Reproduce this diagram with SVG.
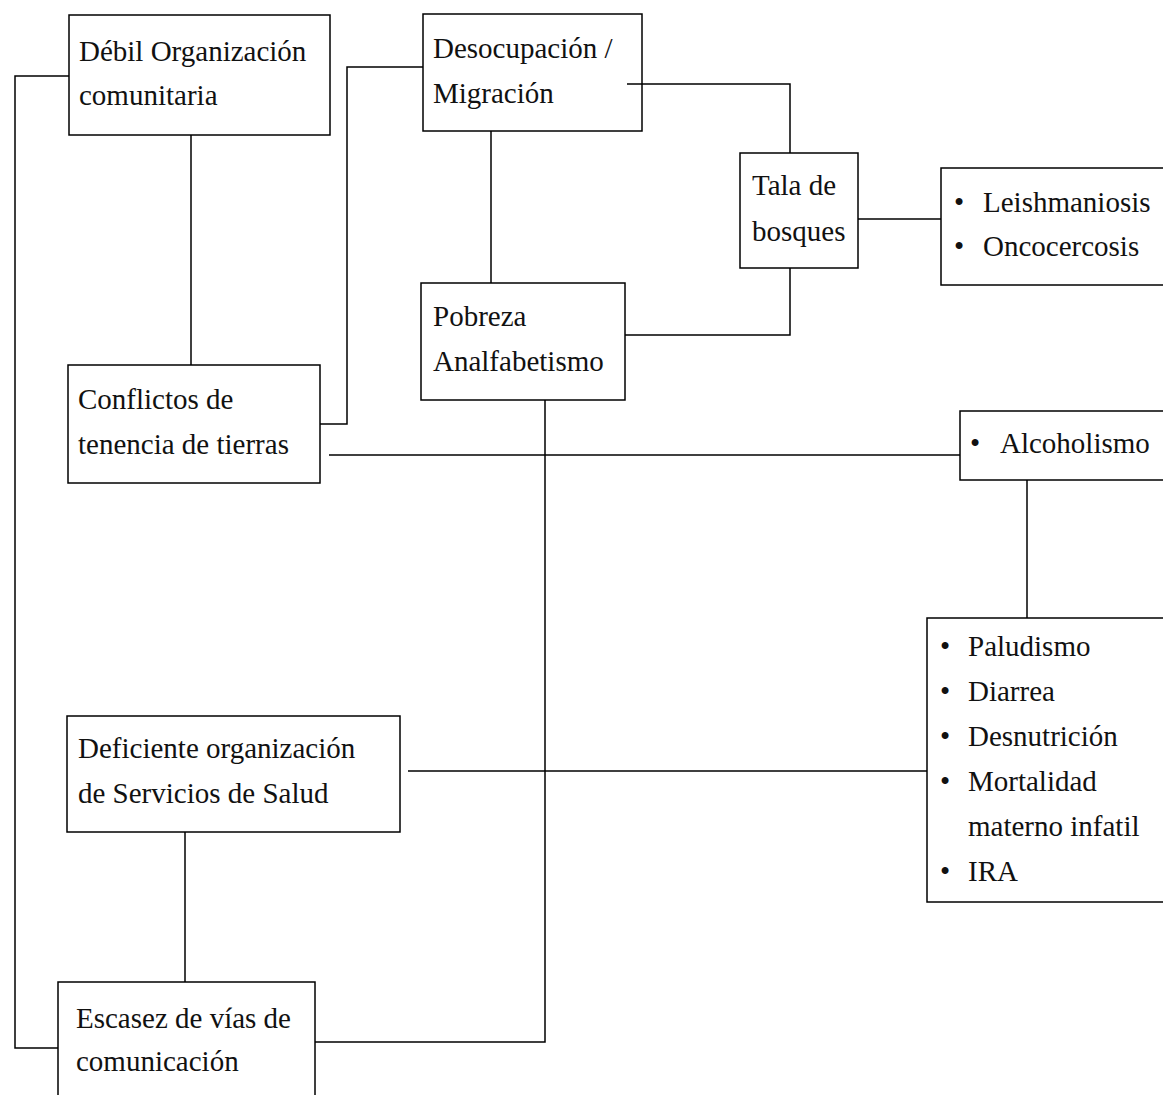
<svg xmlns="http://www.w3.org/2000/svg" width="1163" height="1095" viewBox="0 0 1163 1095">
<style>
.box{fill:#fff;stroke:#000;stroke-width:1.5}
.ln{fill:none;stroke:#000;stroke-width:1.5}
text{font-family:"Liberation Serif",serif;font-size:29px;fill:#111}
</style>
<rect width="1163" height="1095" fill="#fff"/>
<g id="debil">
<rect class="box" x="69" y="15" width="261" height="120"/>
<text x="79" y="61">Débil Organización</text>
<text x="79" y="105">comunitaria</text>
</g>
<g id="desocupacion">
<rect class="box" x="423" y="14" width="219" height="117"/>
<text x="433" y="58">Desocupación /</text>
<text x="433" y="103">Migración</text>
</g>
<g id="tala">
<rect class="box" x="740" y="153" width="118" height="115"/>
<text x="752" y="195">Tala de</text>
<text x="752" y="241">bosques</text>
</g>
<g id="leish">
<rect class="box" x="941" y="168" width="230" height="117"/>
<text x="954" y="212">•</text><text x="983" y="212">Leishmaniosis</text>
<text x="954" y="256">•</text><text x="983" y="256">Oncocercosis</text>
</g>
<g id="pobreza">
<rect class="box" x="421" y="283" width="204" height="117"/>
<text x="433" y="326">Pobreza</text>
<text x="433" y="371">Analfabetismo</text>
</g>
<g id="conflictos">
<rect class="box" x="68" y="365" width="252" height="118"/>
<text x="78" y="409">Conflictos de</text>
<text x="78" y="454">tenencia de tierras</text>
</g>
<g id="alcoholismo">
<rect class="box" x="960" y="411" width="210" height="69"/>
<text x="970" y="453">•</text><text x="1000" y="453">Alcoholismo</text>
</g>
<g id="paludismo">
<rect class="box" x="927" y="618" width="243" height="284"/>
<text x="940" y="656">•</text><text x="968" y="656">Paludismo</text>
<text x="940" y="701">•</text><text x="968" y="701">Diarrea</text>
<text x="940" y="746">•</text><text x="968" y="746">Desnutrición</text>
<text x="940" y="791">•</text><text x="968" y="791">Mortalidad</text>
<text x="968" y="836">materno infatil</text>
<text x="940" y="881">•</text><text x="968" y="881">IRA</text>
</g>
<g id="deficiente">
<rect class="box" x="67" y="716" width="333" height="116"/>
<text x="78" y="758">Deficiente organización</text>
<text x="78" y="803">de Servicios de Salud</text>
</g>
<g id="escasez">
<rect class="box" x="58" y="982" width="257" height="125"/>
<text x="76" y="1028">Escasez de vías de</text>
<text x="76" y="1071">comunicación</text>
</g>
<g id="connectors">
<polyline class="ln" points="69,76 15,76 15,1048 58,1048"/>
<line class="ln" x1="191" y1="135" x2="191" y2="365"/>
<polyline class="ln" points="423,67 347,67 347,424 320,424"/>
<polyline class="ln" points="627,84 790,84 790,153"/>
<line class="ln" x1="491" y1="131" x2="491" y2="283"/>
<polyline class="ln" points="625,335 790,335 790,268"/>
<line class="ln" x1="858" y1="219" x2="941" y2="219"/>
<line class="ln" x1="329" y1="455" x2="960" y2="455"/>
<polyline class="ln" points="545,400 545,1042 315,1042"/>
<line class="ln" x1="1027" y1="480" x2="1027" y2="618"/>
<line class="ln" x1="408" y1="771" x2="927" y2="771"/>
<line class="ln" x1="185" y1="832" x2="185" y2="982"/>
</g>
</svg>
